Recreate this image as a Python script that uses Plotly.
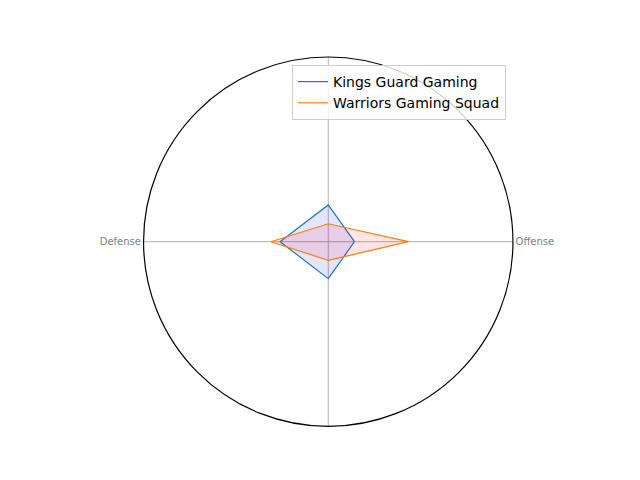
import plotly.graph_objects as go

categories = ["Offense", "", "Defense", ""]
kings_guard = [14.2, 19.9, 26.1, 20.0]
warriors = [43.4, 9.7, 31.0, 10.1]
r_max = 100

n = len(categories)
angles = [i * 360 / n for i in range(n)]
theta_closed = angles + angles[:1]

series = [
    ("Kings Guard Gaming", kings_guard, "#1f77b4", "rgba(0,0,255,0.1)"),
    ("Warriors Gaming Squad", warriors, "#ff7f0e", "rgba(255,0,0,0.1)"),
]

fig = go.Figure()
for name, vals, line_c, fill_c in series:
    r_closed = vals + vals[:1]
    fig.add_trace(go.Scatterpolar(
        r=r_closed, theta=theta_closed, mode="lines", fill="toself",
        fillcolor=fill_c, line=dict(width=0, color=fill_c), showlegend=False,
        hoverinfo="skip"))
    fig.add_trace(go.Scatterpolar(
        r=r_closed, theta=theta_closed, mode="lines", name=name,
        line=dict(color=line_c, width=1.2)))

# page offset of 8px (browser body margin) compensated
off = 8
fig.update_layout(
    width=640, height=480,
    margin=dict(l=0, r=0, t=0, b=0),
    paper_bgcolor="white",
    font=dict(family="DejaVu Sans", size=14, color="black"),
    polar=dict(
        domain=dict(x=[(143.5 - off) / 640, (513 - off) / 640],
                    y=[1 - (426.4 - off) / 480, 1 - (57 - off) / 480]),
        bgcolor="white",
        radialaxis=dict(range=[0, r_max], showgrid=False, showticklabels=False,
                        showline=False, ticks=""),
        angularaxis=dict(
            tickmode="array", tickvals=angles, ticktext=categories,
            direction="counterclockwise", rotation=0,
            showgrid=True, gridcolor="#b0b0b0", gridwidth=1,
            showline=True, linecolor="black", linewidth=1.2,
            ticks="", tickfont=dict(size=10, color="gray", family="DejaVu Sans"),
        ),
    ),
    legend=dict(
        x=(506 - off) / 640, y=1 - (65 - off) / 480, xanchor="right", yanchor="top",
        bgcolor="rgba(255,255,255,0.8)", bordercolor="#cccccc", borderwidth=1,
        font=dict(size=14, color="black"), tracegroupgap=0,
    ),
)

fig.write_html("out.html")
